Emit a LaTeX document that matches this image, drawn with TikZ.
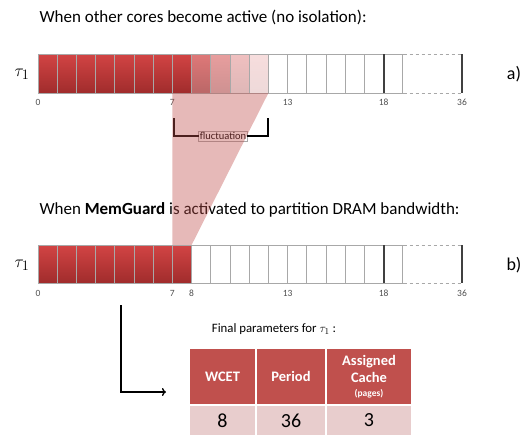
\documentclass[tikz,border=0pt]{standalone}
\usepackage{fontspec}
\setmainfont{Carlito}
\usetikzlibrary{arrows.meta,positioning}
\definecolor{barred}{HTML}{D24444}
\definecolor{bardark}{HTML}{A02C2C}
\definecolor{tabred}{HTML}{C0504D}
\definecolor{tabpink}{HTML}{E8CDCD}
\definecolor{cellgray}{HTML}{A8A8A8}
\definecolor{markgray}{HTML}{404040}
\definecolor{numgray}{HTML}{505050}

\tikzset{
  cellline/.style={draw=cellgray, line width=0.8pt},
  endmark/.style={draw=markgray, line width=1.8pt},
  tick/.style={text=numgray, font=\fontsize{9.5}{11}\selectfont},
  title/.style={anchor=west, font=\fontsize{17}{20}\selectfont},
  bracket/.style={line width=2.6pt, line cap=rect},
  hdr/.style={rectangle, fill=tabred, draw=white, line width=1.2pt, text=white,
    font=\fontsize{14.5}{17.5}\selectfont\bfseries, align=center, minimum height=57pt},
  val/.style={rectangle, fill=tabpink, draw=white, line width=1.2pt,
    font=\fontsize{20}{22}\selectfont, minimum height=30pt}
}

\begin{document}
\begin{tikzpicture}[x=1pt, y=-1pt]
  \useasboundingbox (0,0) rectangle (530,434);

  % Titles
  \node[title] (titlea) at (36,17) {When other cores become active (no isolation):};
  \node[title] (titleb) at (36,210) {When \textbf{MemGuard} is activated to partition DRAM bandwidth:};

  % Bar a)
  \foreach \i in {0,...,7}
    \shade[top color=barred, bottom color=bardark] ({38+\i*19.2},54) rectangle ++(19.2,39);
  \foreach \i/\p in {8/72,9/52,10/34,11/18}
    \shade[top color=barred!\p!white, bottom color=bardark!\p!white] ({38+\i*19.2},54) rectangle ++(19.2,39);
  \foreach \i in {1,...,17,19}
    \draw[cellline] ({38+\i*19.2},54) -- ++(0,39);
  \draw[cellline] (403.6,54) -- (38,54) -- (38,93) -- (403.6,93);
  \draw[cellline, dashed] (403.6,54) -- (462,54) (403.6,93) -- (462,93);
  \draw[endmark] (383.6,54) -- (383.6,93);
  \draw[endmark] (462,54) -- (462,93);

  \node[font=\fontsize{19}{21}\selectfont] (taua) at (22,74) {$\tau_1$};
  \node[font=\fontsize{18}{20}\selectfont] (laba) at (514,74) {a)};
  \foreach \n/\x in {0/38,7/172.4,13/287.6,18/383.6,36/462}
    \node[tick] (a\n) at (\x,102) {\n};

  % Bar b)
  \foreach \i in {0,...,7}
    \shade[top color=barred, bottom color=bardark] ({38+\i*19.2},245) rectangle ++(19.2,38);
  \foreach \i in {1,...,17,19}
    \draw[cellline] ({38+\i*19.2},245) -- ++(0,38);
  \draw[cellline] (403.6,245) -- (38,245) -- (38,283) -- (403.6,283);
  \draw[cellline, dashed] (403.6,245) -- (462,245) (403.6,283) -- (462,283);
  \draw[endmark] (383.6,245) -- (383.6,283);
  \draw[endmark] (462,245) -- (462,283);

  \node[font=\fontsize{19}{21}\selectfont] (taub) at (22,265) {$\tau_1$};
  \node[font=\fontsize{18}{20}\selectfont] (labb) at (514,265) {b)};
  \foreach \n/\x in {0/38,7/172.4,8/191.6,13/287.6,18/383.6,36/462}
    \node[tick] (b\n) at (\x,293) {\n};

  % Fluctuation
  \node[draw=cellgray, fill=white, inner sep=1.5pt, font=\fontsize{10.5}{12}\selectfont] (fluct) at (223,136) {fluctuation};
  \coordinate (flleft) at (174,119);
  \coordinate (flright) at (268,119);
  \draw[bracket] (flleft) |- (fluct.west);
  \draw[bracket] (flright) |- (fluct.east);

  % Projection
  \fill[tabred, opacity=0.4] (172.4,93) -- (268.4,93) -- (191.6,245) -- (172.4,245) -- cycle;

  % Final parameters
  \coordinate (arrowtop) at (121,305);
  \coordinate (arrowend) at (166,392);
  \draw[line width=1.3pt, -{To[length=4pt, width=8pt]}] (arrowtop) |- (arrowend);

  \node[font=\fontsize{12.8}{14}\selectfont] (finalcap) at (274,329) {Final parameters for $\tau_1$ :};

  \node[hdr, minimum width=67pt] (wcet) at (222.5,376.5) {WCET};
  \node[hdr, minimum width=70pt] (period) at (291,376.5) {Period};
  \node[hdr, minimum width=86pt] (cache) at (369,376.5) {Assigned\\Cache\\[-4pt]{\fontsize{9.5}{10}\selectfont (pages)}};
  \node[val, minimum width=67pt] (wcetval) at (222.5,420.5) {8};
  \node[val, minimum width=70pt] (periodval) at (291,420.5) {36};
  \node[val, minimum width=86pt] (cacheval) at (369,420.5) {3};
\end{tikzpicture}
\end{document}
